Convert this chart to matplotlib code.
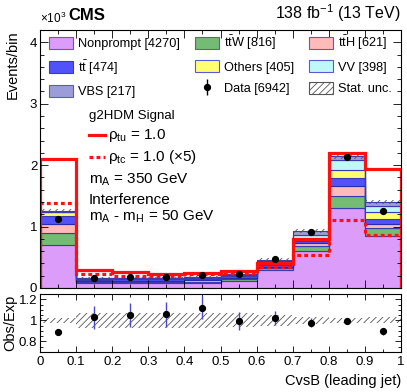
import numpy as np
import matplotlib
matplotlib.use('Agg')
import matplotlib.pyplot as plt
from matplotlib.patches import Patch
from matplotlib.lines import Line2D
from matplotlib.ticker import MultipleLocator

# binning of the CvsB discriminant
edges = np.linspace(0., 1., 11)
centers = 0.5*(edges[1:] + edges[:-1])

# background yields per bin (events), bottom of the stack first
nonprompt = [700, 75, 80, 80, 85, 120, 290, 600, 1310, 840]
ttw       = [190, 20, 20, 20, 20, 25, 35, 80, 190, 130]
tth       = [150, 15, 15, 15, 18, 20, 25, 50, 160, 80]
ttbar     = [140, 25, 25, 25, 25, 25, 30, 40, 130, 80]
others    = [50, 10, 10, 10, 12, 15, 20, 30, 130, 100]
vv        = [15, 10, 10, 10, 12, 15, 35, 60, 170, 100]
vbs       = [10, 10, 10, 10, 11, 10, 25, 70, 60, 70]
stat_unc  = [29, 12, 12, 12, 13, 15, 23, 33, 54, 39]

# observed data
data     = [1117, 170, 179, 180, 205, 229, 471, 911, 2128, 1253]
data_err = [38, 18, 19, 20, 20, 20, 32, 37, 43, 42]

# g2HDM signal templates
sig_tu   = [2100, 290, 255, 230, 245, 275, 405, 790, 2190, 1930]
sig_tc5  = [1380, 220, 190, 200, 220, 240, 340, 540, 1100, 870]

# legend yields
yields = {'Nonprompt': 4270, 'ttW': 816, 'ttH': 621, 'tt': 474,
          'Others': 405, 'VV': 398, 'VBS': 217, 'Data': 6942}

plt.rcParams['font.family'] = ['Liberation Sans', 'DejaVu Sans']
plt.rcParams['mathtext.fontset'] = 'custom'
plt.rcParams['mathtext.rm'] = 'Liberation Sans'
plt.rcParams['mathtext.it'] = 'Liberation Sans'
plt.rcParams['mathtext.bf'] = 'Liberation Sans:bold'
plt.rcParams['hatch.linewidth'] = 0.6

picW, picH = 407., 392.
fig = plt.figure(figsize=(picW/100., picH/100.), dpi=100)
ax  = fig.add_axes([40/picW, 1-288/picH, 361/picW, 258/picH])
axr = fig.add_axes([40/picW, 1-352/picH, 361/picW, 58/picH])

scale = 1e-3   # plotted in units of 10^3
stack = [(nonprompt, '#dc9cfa', '#9a5ce0'),
         (ttw,       '#74bb74', '#3b3bb0'),
         (tth,       '#ffbaba', '#3b3bb0'),
         (ttbar,     '#5252fa', '#2a2ab0'),
         (others,    '#ffff70', '#3b3bb0'),
         (vv,        '#bff8f8', '#3b3bb0'),
         (vbs,       '#9c9cd8', '#3b3bb0')]
base = np.zeros(len(centers))
for vals, fc, ec in stack:
    top = base + np.array(vals)*scale
    ax.stairs(top, edges, baseline=base, fill=True, color=fc, lw=0)
    ax.stairs(top, edges, baseline=base, fill=False, color=ec, lw=0.8)
    base = top
total = base/scale

# stat. uncertainty band
unc = np.array(stat_unc)
ax.stairs((total+unc)*scale, edges, baseline=(total-unc)*scale, fill=True,
          facecolor='none', edgecolor='#555555', hatch='/////', lw=0)

# signals
ax.stairs(np.array(sig_tu)*scale, edges, color='#ff1010', lw=2.3)
ax.stairs(np.array(sig_tc5)*scale, edges, color='#ff1010', lw=2.3, ls=(0, (1.2, 1.0)))

# data
ax.errorbar(centers, np.array(data)*scale, yerr=np.array(data_err)*scale,
            fmt='o', color='black', ms=4.2, ecolor='#4a4ac8', elinewidth=1.0, capsize=0)

ax.set_xlim(0, 1)
ax.set_ylim(0, 4.2)
ax.xaxis.set_major_locator(MultipleLocator(0.1))
ax.xaxis.set_minor_locator(MultipleLocator(0.05))
ax.yaxis.set_major_locator(MultipleLocator(1))
ax.yaxis.set_minor_locator(MultipleLocator(0.2))
ax.set_xticklabels([])
ax.set_ylabel('Events/bin', fontsize=10.5, loc='top', labelpad=7)

# ratio panel
ratio = np.array(data)/total
ratio_err = np.array(data_err)/total
rel = unc/total
axr.stairs(1+rel, edges, baseline=1-rel, fill=True, facecolor='none',
           edgecolor='#555555', hatch='/////', lw=0)
axr.errorbar(centers, ratio, yerr=ratio_err, fmt='o', color='black', ms=4.2,
             ecolor='#4a4ac8', elinewidth=1.0, capsize=0)
axr.set_xlim(0, 1)
axr.set_ylim(0.7, 1.25)
axr.xaxis.set_minor_locator(MultipleLocator(0.05))
axr.yaxis.set_minor_locator(MultipleLocator(0.05))
axr.set_xticks(np.arange(0, 1.01, 0.1))
axr.set_xticklabels(['0', '0.1', '0.2', '0.3', '0.4', '0.5', '0.6', '0.7', '0.8', '0.9', '1'])
axr.set_yticks([0.8, 1.0, 1.2])
axr.set_yticklabels(['0.8', '1', '1.2'])
axr.set_ylabel('Obs/Exp', fontsize=10.5, labelpad=1)
axr.set_xlabel('CvsB (leading jet)', fontsize=10.5, loc='right', labelpad=4)

for a in (ax, axr):
    a.tick_params(which='both', direction='in', top=True, right=True, labelsize=9.5, pad=2)
    a.tick_params(which='major', length=6, width=0.6)
    a.tick_params(which='minor', length=3, width=0.6)
    for s in a.spines.values():
        s.set_linewidth(0.8)
axr.tick_params(which='major', length=4)
axr.tick_params(which='minor', length=2)
axr.tick_params(axis='x', pad=3)

# background legend (column-wise order)
h_np  = Patch(fc='#dc9cfa', ec='#5a5ad0', lw=0.8)
h_tt  = Patch(fc='#5252fa', ec='#3a3ac0', lw=0.8)
h_vbs = Patch(fc='#9c9cd8', ec='#5a5ad0', lw=0.8)
h_ttw = Patch(fc='#74bb74', ec='#5a5ad0', lw=0.8)
h_oth = Patch(fc='#ffff70', ec='#5a5ad0', lw=0.8)
h_dat = (Line2D([], [], marker='|', ms=11, mew=1.0, color='black', ls='none'),
         Line2D([], [], marker='o', ms=4.2, color='black', ls='none'))
h_tth = Patch(fc='#ffbaba', ec='#5a5ad0', lw=0.8)
h_vv  = Patch(fc='#bff8f8', ec='#5a5ad0', lw=0.8)
h_unc = Patch(fc='none', ec='#555555', hatch='/////', lw=0.8)
handles = [h_np, h_tt, h_vbs, h_ttw, h_oth, h_dat, h_tth, h_vv, h_unc]
labels = ['Nonprompt [%d]' % yields['Nonprompt'],
          r'$\mathrm{t\bar{t}}$ [%d]' % yields['tt'],
          'VBS [%d]' % yields['VBS'],
          r'$\mathrm{t\bar{t}}$W [%d]' % yields['ttW'],
          'Others [%d]' % yields['Others'],
          'Data [%d]' % yields['Data'],
          r'$\mathrm{t\bar{t}}$H [%d]' % yields['ttH'],
          'VV [%d]' % yields['VV'],
          'Stat. unc.']
ax.legend(handles, labels, ncol=3, loc='upper left', bbox_to_anchor=(0.0, 1.02),
          frameon=False, fontsize=9.2, handlelength=1.9, handleheight=1.1,
          handletextpad=0.35, columnspacing=1.2, labelspacing=0.62, borderaxespad=0.3)

# signal annotation
tx = (89-40)/361.
ax.text(tx, 0.665, 'g2HDM Signal', transform=ax.transAxes, fontsize=9.5, va='center')
ax.plot([tx, tx+0.045], [0.593, 0.593], transform=ax.transAxes, color='#ff1010', lw=2.3)
ax.text(tx+0.052, 0.593, r'$\rho_{\mathrm{tu}}$ = 1.0', transform=ax.transAxes, fontsize=11, va='center')
ax.plot([tx, tx+0.045], [0.508, 0.508], transform=ax.transAxes, color='#ff1010', lw=2.3, ls=(0, (1.2, 1.0)))
ax.text(tx+0.052, 0.508, r'$\rho_{\mathrm{tc}}$ = 1.0 (×5)', transform=ax.transAxes, fontsize=11, va='center')
ax.text(tx, 0.42, r'm$_{\mathrm{A}}$ = 350 GeV', transform=ax.transAxes, fontsize=11, va='center')
ax.text(tx, 0.343, 'Interference', transform=ax.transAxes, fontsize=11, va='center')
ax.text(tx, 0.276, r'm$_{\mathrm{A}}$ - m$_{\mathrm{H}}$ = 50 GeV', transform=ax.transAxes, fontsize=11, va='center')

# header
fig.text(40/picW, 1-18/picH, r'×10$^{3}$', fontsize=8.5, va='center', ha='left')
fig.text(68/picW, 1-16/picH, 'CMS', fontsize=12, fontweight='bold', va='center', ha='left')
fig.text(401/picW, 1-13/picH, r'138 fb$^{-1}$ (13 TeV)', fontsize=11.5, va='center', ha='right')

fig.savefig('out.png', dpi=100)
